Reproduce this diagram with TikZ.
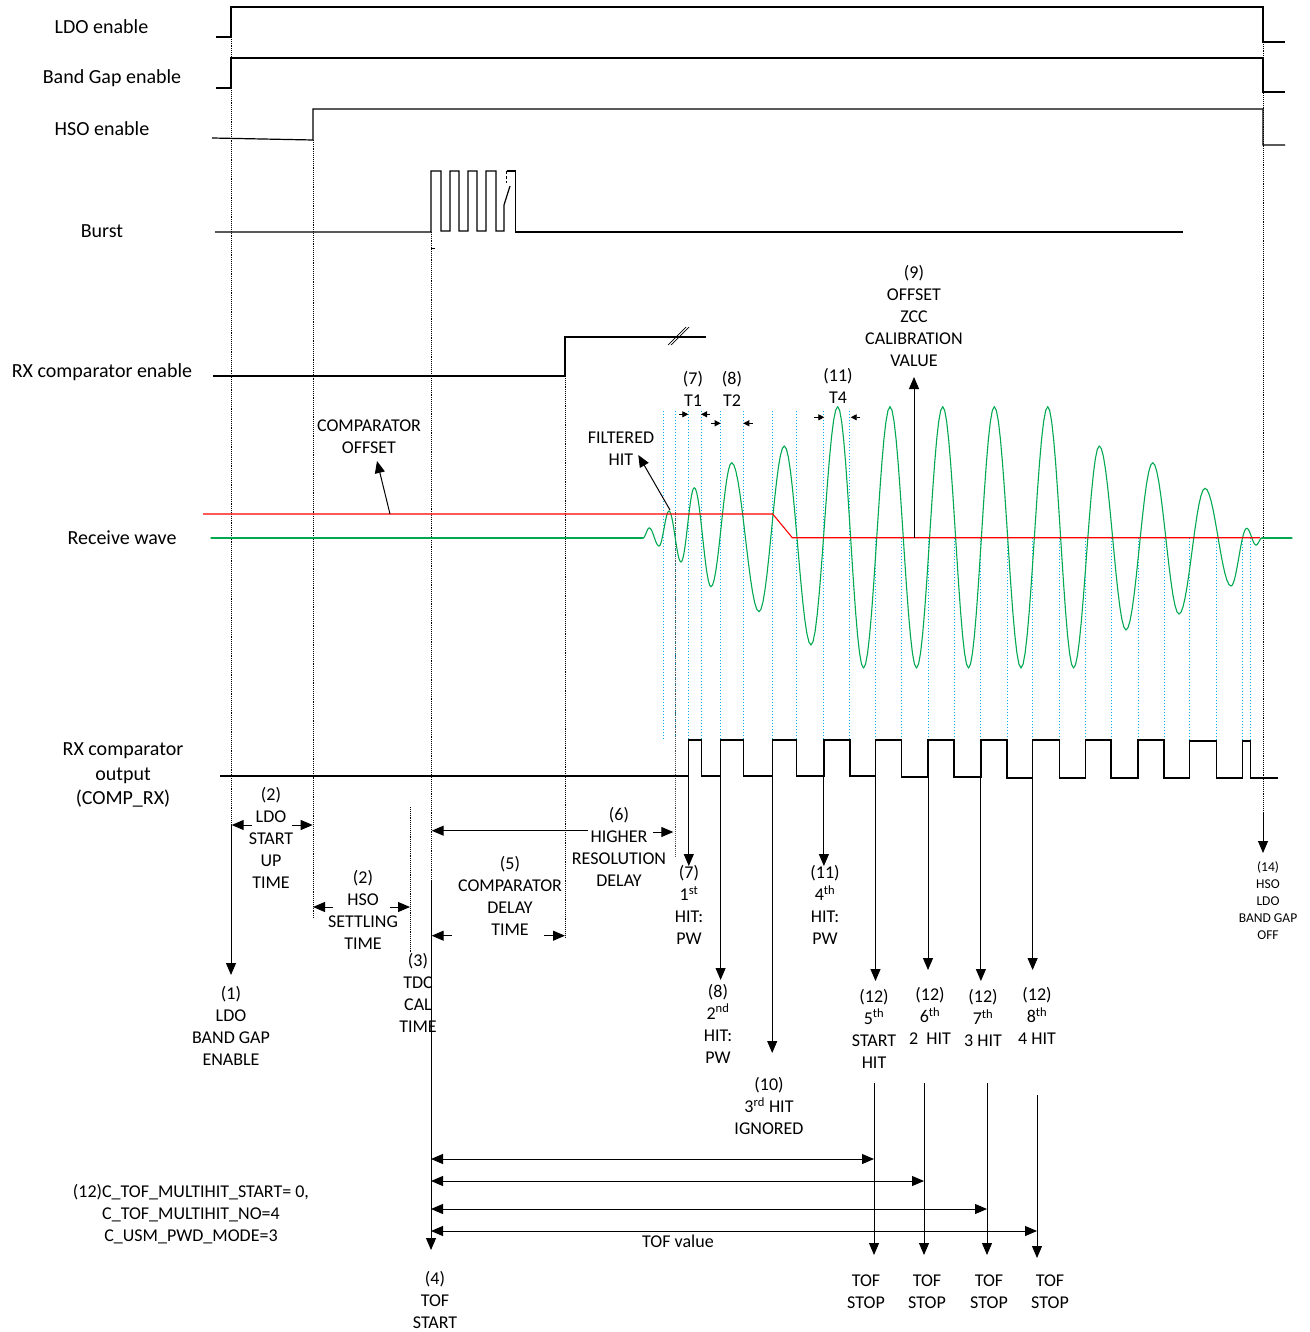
\documentclass[tikz,border=0pt]{standalone}
\usepackage{fontspec}
\setmainfont{Carlito}
\usetikzlibrary{arrows.meta}
\definecolor{wavegreen}{RGB}{0,168,80}
\definecolor{hitblue}{RGB}{0,176,240}
\begin{document}
\begin{tikzpicture}[x=1pt,y=-1pt,
  sig/.style={line width=1.2pt, black},
  vdot/.style={densely dotted, line width=0.9pt, black},
  gdot/.style={densely dotted, line width=0.9pt, black!70},
  bdot/.style={dotted, line width=1pt, hitblue},
  wave/.style={line width=1.1pt, wavegreen, line cap=round},
  thr/.style={line width=1.1pt, red},
  arr/.style={line width=1pt, -{Triangle[length=12pt,width=10pt]}},
  sarr/.style={line width=0.8pt, -{Triangle[length=6pt,width=6pt]}},
  darr/.style={line width=1pt, {Triangle[length=12pt,width=10pt]}-{Triangle[length=12pt,width=10pt]}},
  lbl/.style={align=center, inner sep=0pt, font=\fontsize{18}{22}\selectfont},
  siglbl/.style={align=center, inner sep=0pt, font=\fontsize{20}{24.5}\selectfont},
  tinylbl/.style={align=center, inner sep=0pt, font=\fontsize{13.5}{17}\selectfont}]
\useasboundingbox (0,0) rectangle (1309,1332);

% ---------- signal names ----------
\node[siglbl] (nLDO) at (101.5,27) {LDO enable};
\node[siglbl] (nBG) at (112,78) {Band Gap enable};
\node[siglbl] (nHSO) at (102,129) {HSO enable};
\node[siglbl] (nBurst) at (102,231) {Burst};
\node[siglbl] (nRXen) at (102,372) {RX comparator enable};
\node[siglbl] (nRW) at (122,538) {Receive wave};
\node[siglbl] (nRXout) at (123,775) {RX comparator\\output\\(COMP\_RX)};

% ---------- digital signals ----------
\draw[sig] (216,37) -- (231,37) -- (231,7) -- (1263,7) -- (1263,42) -- (1285,42);
\draw[sig] (216,88) -- (231,88) -- (231,58) -- (1263,58) -- (1263,92) -- (1285,92);
\draw[sig] (212,138) -- (313,140) -- (313,109) -- (1263,109) -- (1263,145) -- (1285,145);
% burst
\draw[sig] (215,232) -- (431,232) -- (431,171) -- (441,171) -- (441,231) -- (450,231) -- (450,171)
  -- (459,171) -- (459,231) -- (468,231) -- (468,171) -- (477,171) -- (477,231) -- (486,231)
  -- (486,171) -- (496,171) -- (496,231) -- (504,231) -- (504,205) -- (510,186);
\draw[sig] (506.7,171) -- (515.7,171) -- (515.7,232) -- (1183,232);
\draw[line width=0.8pt, dashed, dash pattern=on 3pt off 2pt] (506.7,171) -- (506.7,183);
\draw[line width=0.8pt] (431,248) -- (435,248);
% RX comparator enable
\draw[sig] (213,376) -- (565,376) -- (565,337) -- (706,337);
\draw[line width=0.7pt] (668,345) -- (686,327);
\draw[line width=0.7pt] (671,345) -- (689,327);

% ---------- vertical dotted guide lines ----------
\draw[vdot] (231,37) -- (231,825);
\draw[vdot] (313,140) -- (313,918);
\draw[vdot] (410,807) -- (410,953);
\draw[vdot] (431,232) -- (431,880);
\draw[vdot] (565,376) -- (565,937);
\draw[vdot] (1263,42) -- (1263,812);

% blue hit lines
\foreach \xx in {663,675,688.8,701.2,720.6,743.3,772.2,796.2,823.9,849.9}
  \draw[bdot] (\xx,411) -- (\xx,740);
\foreach \xx in {875.5,901.6,928,954,980.9,1007,1032.6,1059.4,1085.5,1111,1138,1164,1189.6,1216.4,1242.5,1250.7}
  \draw[bdot] (\xx,538) -- (\xx,740);
\draw[gdot] (675,512) -- (675,857);

% ---------- receive wave ----------
\draw[wave] (211,538) -- (643,538);
\foreach \xb/\yb [remember=\xb as \xa (initially 643), remember=\yb as \ya (initially 538)] in
  {649.3/528, 659/546, 669/511, 681/562, 694.3/487.7, 711/586.7, 731.7/462.7, 759/611.7,
   784.3/446, 811/645, 837.7/406.7, 863.5/668, 890/406.7, 916.5/668, 942.7/406.7, 968.5/668,
   994.3/406.7, 1021/668, 1047.7/406.7, 1073.5/668, 1099.3/446, 1126/630, 1152.7/462.7,
   1179/614, 1205/488.3, 1231/586, 1246.7/528.3, 1256/545, 1262/538}
  \draw[wave] plot[domain=0:180, samples=14, variable=\t]
     ({\xa+(\xb-\xa)*\t/180}, {(\ya+\yb)/2+(\ya-\yb)/2*cos(\t)});
\draw[wave] (1262,538) -- (1292,538);
% threshold
\draw[thr] (203,514) -- (772.7,514) -- (792.3,537.7) -- (1260,537.7);

% ---------- comparator output ----------
\draw[sig] (220,776) -- (688.8,776) -- (688.8,740) -- (701.2,740) -- (701.2,776)
  -- (720.6,776) -- (720.6,740) -- (743.3,740) -- (743.3,776)
  -- (772.2,776) -- (772.2,740) -- (796.2,740) -- (796.2,776)
  -- (823.9,776) -- (823.9,740) -- (849.9,740) -- (849.9,776)
  -- (875.5,776) -- (875.5,740) -- (901.6,740) -- (901.6,777)
  -- (928,777) -- (928,740) -- (954,740) -- (954,777)
  -- (980.9,777) -- (980.9,740) -- (1007,740) -- (1007,778)
  -- (1032.6,778) -- (1032.6,740) -- (1059.4,740) -- (1059.4,778)
  -- (1085.5,778) -- (1085.5,740) -- (1111,740) -- (1111,778)
  -- (1138,778) -- (1138,740) -- (1164,740) -- (1164,778)
  -- (1189.6,778) -- (1189.6,741) -- (1216.4,741) -- (1216.4,778)
  -- (1242.5,778) -- (1242.5,741) -- (1250.7,741) -- (1250.7,778) -- (1278,778);

% ---------- annotation labels ----------
\node[lbl] (lCmpOff) at (369,437) {COMPARATOR\\OFFSET};
\node[lbl] (lFilt) at (621,449) {FILTERED\\HIT};
\node[lbl] (lT1) at (693,389) {(7)\\T1};
\node[lbl] (lT2) at (732,389) {(8)\\T2};
\node[lbl] (lT4) at (838,386) {(11)\\T4};
\node[lbl] (lZcc) at (914,316) {(9)\\OFFSET\\ZCC\\CALIBRATION\\VALUE};
\node[lbl] (lLdoSt) at (271,838) {(2)\\LDO\\START\\UP\\TIME};
\node[lbl] (lHso) at (363,910) {(2)\\HSO\\SETTLING\\TIME};
\node[lbl] (lTdc) at (418,992.5) {(3)\\TDC\\CAL\\TIME};
\node[lbl] (lCmpDel) at (510,896) {(5)\\COMPARATOR\\DELAY\\TIME};
\node[lbl] (lHiRes) at (619,847) {(6)\\HIGHER\\RESOLUTION\\DELAY};
\node[lbl] (lHit1) at (689,905) {(7)\\1\textsuperscript{st}\\HIT:\\PW};
\node[lbl] (lHit2) at (718,1023.5) {(8)\\2\textsuperscript{nd}\\HIT:\\PW};
\node[lbl] (lHit3) at (769,1106) {(10)\\3\textsuperscript{rd} HIT\\IGNORED};
\node[lbl] (lHit4) at (825,905) {(11)\\4\textsuperscript{th}\\HIT:\\PW};
\node[lbl] (lEn) at (231,1026) {(1)\\LDO\\BAND GAP\\ENABLE};
\node[lbl] (lH5) at (874,1028.5) {(12)\\5\textsuperscript{th}\\START\\HIT};
\node[lbl] (lH6) at (930,1016) {(12)\\6\textsuperscript{th}\\2\ \ HIT};
\node[lbl] (lH7) at (983,1018) {(12)\\7\textsuperscript{th}\\3 HIT};
\node[lbl] (lH8) at (1037,1016) {(12)\\8\textsuperscript{th}\\4 HIT};
\node[tinylbl] (lOff) at (1268,900.5) {(14)\\HSO\\LDO\\BAND GAP\\OFF};
\node[lbl] (lTofStart) at (435,1300) {(4)\\TOF\\START};
\node[lbl] (lStop1) at (866,1292) {TOF\\STOP};
\node[lbl] (lStop2) at (927,1292) {TOF\\STOP};
\node[lbl] (lStop3) at (989,1292) {TOF\\STOP};
\node[lbl] (lStop4) at (1050,1292) {TOF\\STOP};
\node[lbl] (lTofVal) at (678,1241) {TOF value};
\node[lbl] (lCfg) at (191,1214) {(12)C\_TOF\_MULTIHIT\_START= 0,\\C\_TOF\_MULTIHIT\_NO=4\\C\_USM\_PWD\_MODE=3};

% ---------- arrows ----------
\draw[arr] (231,825) -- (231,975);
\draw[arr] (251.7,825) -- (231.7,825);
\draw[arr] (291.7,825) -- (312.7,825);
\draw[arr] (333,907) -- (313,907);
\draw[arr] (390,907) -- (410,907);
\draw[arr] (451.7,935.7) -- (431.7,935.7);
\draw[arr] (544,935.7) -- (565,935.7);
\draw[arr] (588,830.7) -- (431.7,830.7);
\draw[arr] (653,832) -- (673.3,832);
\draw[arr] (390,514) -- (377,461);
\draw[arr] (670,510) -- (638.3,455);
\draw[arr] (914,538) -- (914,377);
\draw[sarr] (679.3,414.3) -- (688.3,414.3);
\draw[sarr] (710,414.3) -- (701,414.3);
\draw[sarr] (711,423.3) -- (720.7,423.3);
\draw[sarr] (753,423.3) -- (743.3,423.3);
\draw[sarr] (813.7,417.3) -- (824.3,417.3);
\draw[sarr] (860,417.3) -- (850.7,417.3);
% hit arrows
\draw[arr] (688.8,776) -- (688.8,866);
\draw[arr] (720.6,776) -- (720.6,980);
\draw[arr] (772.2,776) -- (772.2,1053);
\draw[arr] (823.9,776) -- (823.9,866);
\draw[arr] (875.5,777) -- (875.5,981);
\draw[arr] (928,777) -- (928,970);
\draw[arr] (980.9,777) -- (980.9,981);
\draw[arr] (1032.6,778) -- (1032.6,970);
\draw[arr] (1263,812) -- (1263,853);
% TOF
\draw[arr] (431,880) -- (431,1250);
\draw[arr] (874,1083) -- (874,1255);
\draw[arr] (924,1083) -- (924,1255);
\draw[arr] (987,1083) -- (987,1255);
\draw[arr] (1037,1095) -- (1037,1258);
\draw[darr] (431,1159) -- (874,1159);
\draw[darr] (431,1181) -- (924,1181);
\draw[darr] (431,1209) -- (987,1209);
\draw[darr] (431,1231) -- (1037,1231);
\end{tikzpicture}
\end{document}
